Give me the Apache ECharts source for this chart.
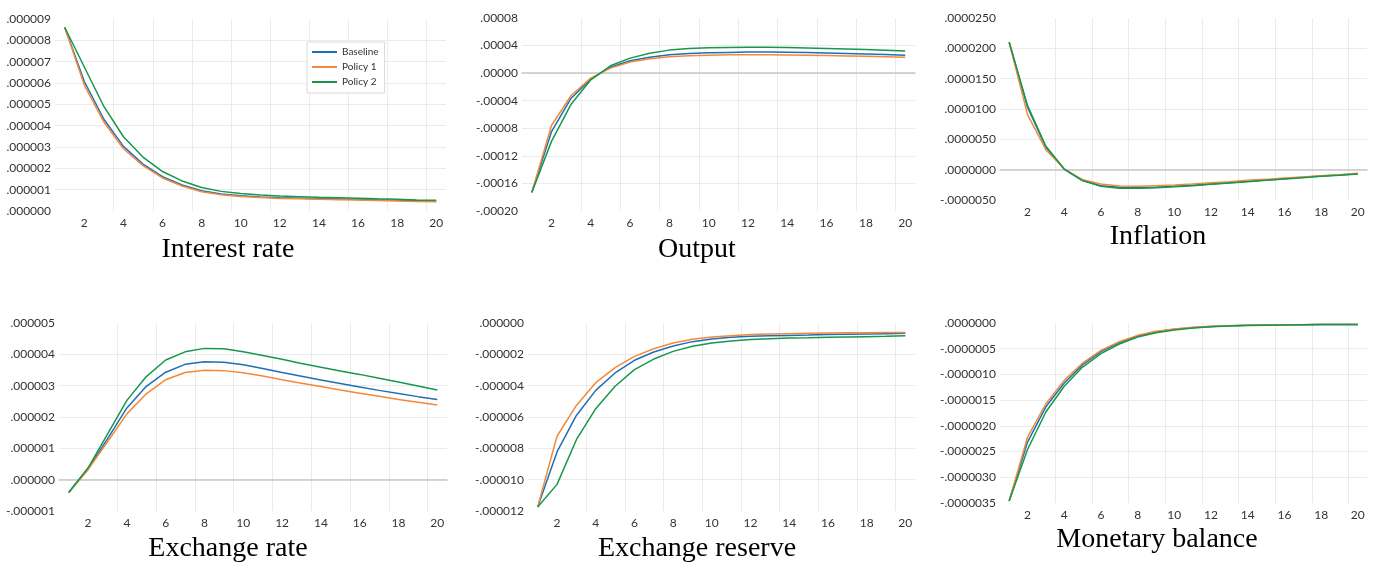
<!DOCTYPE html>
<html>
<head>
<meta charset="utf-8">
<title>Impulse responses</title>
<script src="https://cdn.jsdelivr.net/npm/echarts@6/dist/echarts.min.js"></script>
<style>
  html, body { margin: 0; padding: 0; background: #fff; }
  #main { width: 1375px; height: 562px; }
</style>
</head>
<body>
<div id="main"></div>
<script>
// periods after the shock
var periods = ['1', '2', '3', '4', '5', '6', '7', '8', '9', '10',
  '11', '12', '13', '14', '15', '16', '17', '18', '19', '20'];
var seriesNames = ['Baseline', 'Policy 1', 'Policy 2'];
var colors = ['#1f6fb7', '#f5893a', '#16974c'];

// Interest rate (x 1e-6)
var interestBaseline = [8.6, 6.07, 4.3, 3.03, 2.2, 1.61, 1.22, 0.95, 0.8, 0.72, 0.66, 0.62, 0.6, 0.58, 0.56, 0.54, 0.52, 0.5, 0.48, 0.46];
var interestPolicy1 = [8.6, 5.9, 4.17, 2.92, 2.13, 1.55, 1.17, 0.9, 0.76, 0.68, 0.63, 0.59, 0.57, 0.55, 0.53, 0.51, 0.49, 0.47, 0.45, 0.43];
var interestPolicy2 = [8.6, 6.75, 4.9, 3.48, 2.53, 1.85, 1.41, 1.1, 0.92, 0.82, 0.75, 0.7, 0.67, 0.64, 0.62, 0.6, 0.57, 0.55, 0.52, 0.5];

// Output (x 1e-5)
var outputBaseline = [-17.3, -8.5, -3.63, -0.87, 0.87, 1.8, 2.32, 2.66, 2.86, 2.95, 3.0, 3.05, 3.05, 3.03, 2.98, 2.92, 2.85, 2.77, 2.69, 2.6];
var outputPolicy1 = [-17.3, -7.6, -3.24, -0.73, 0.73, 1.6, 2.08, 2.37, 2.52, 2.6, 2.66, 2.66, 2.66, 2.64, 2.6, 2.55, 2.5, 2.44, 2.38, 2.32];
var outputPolicy2 = [-17.3, -9.9, -4.5, -0.97, 1.07, 2.18, 2.9, 3.34, 3.58, 3.68, 3.73, 3.75, 3.75, 3.72, 3.66, 3.59, 3.51, 3.42, 3.32, 3.2];

// Inflation (x 1e-6)
var inflationBaseline = [21.0, 10.3, 3.7, 0.1, -1.8, -2.64, -2.9, -3.0, -2.9, -2.75, -2.58, -2.36, -2.14, -1.92, -1.7, -1.48, -1.26, -1.04, -0.88, -0.66];
var inflationPolicy1 = [21.0, 9.07, 3.3, 0.1, -1.65, -2.36, -2.7, -2.75, -2.64, -2.53, -2.36, -2.14, -1.98, -1.76, -1.6, -1.37, -1.2, -0.99, -0.82, -0.6];
var inflationPolicy2 = [21.0, 10.55, 3.85, 0.1, -1.8, -2.75, -3.08, -3.08, -2.97, -2.8, -2.64, -2.42, -2.2, -1.98, -1.76, -1.54, -1.32, -1.1, -0.93, -0.71];

// Exchange rate (x 1e-6)
var exrateBaseline = [-0.41, 0.35, 1.3, 2.29, 2.98, 3.43, 3.68, 3.76, 3.75, 3.67, 3.55, 3.42, 3.3, 3.18, 3.07, 2.96, 2.85, 2.75, 2.65, 2.56];
var exratePolicy1 = [-0.41, 0.32, 1.21, 2.1, 2.74, 3.19, 3.42, 3.49, 3.48, 3.41, 3.31, 3.19, 3.08, 2.97, 2.86, 2.76, 2.66, 2.56, 2.47, 2.38];
var exratePolicy2 = [-0.41, 0.38, 1.45, 2.53, 3.29, 3.82, 4.08, 4.19, 4.18, 4.08, 3.96, 3.84, 3.71, 3.59, 3.47, 3.36, 3.24, 3.12, 2.99, 2.86];

// Exchange reserve (x 1e-6)
var reserveBaseline = [-11.74, -8.23, -5.9, -4.3, -3.19, -2.38, -1.85, -1.47, -1.19, -1.02, -0.91, -0.85, -0.81, -0.79, -0.77, -0.74, -0.72, -0.7, -0.68, -0.66];
var reservePolicy1 = [-11.74, -7.23, -5.26, -3.81, -2.85, -2.13, -1.64, -1.28, -1.04, -0.89, -0.81, -0.74, -0.7, -0.68, -0.66, -0.64, -0.63, -0.62, -0.61, -0.6];
var reservePolicy2 = [-11.74, -10.3, -7.45, -5.47, -4.04, -2.98, -2.3, -1.81, -1.49, -1.28, -1.15, -1.06, -1.0, -0.96, -0.94, -0.91, -0.89, -0.87, -0.85, -0.81];

// Monetary balance (x 1e-7)
var moneyBaseline = [-34.6, -23.15, -16.3, -11.67, -8.1, -5.58, -3.83, -2.53, -1.75, -1.23, -0.91, -0.68, -0.55, -0.45, -0.39, -0.35, -0.32, -0.3, -0.28, -0.27];
var moneyPolicy1 = [-34.6, -22.2, -15.7, -11.15, -7.78, -5.32, -3.63, -2.4, -1.62, -1.17, -0.84, -0.65, -0.52, -0.45, -0.39, -0.35, -0.32, -0.3, -0.28, -0.27];
var moneyPolicy2 = [-34.6, -24.6, -17.3, -12.3, -8.56, -5.97, -4.09, -2.72, -1.88, -1.36, -0.97, -0.71, -0.58, -0.49, -0.42, -0.37, -0.33, -0.3, -0.28, -0.27];

// one entry per small chart: data, y axis range and where it sits
var panels = [
  { title: 'Interest rate', lines: [interestBaseline, interestPolicy1, interestPolicy2], unit: 1e-6,
    min: 0, max: 0.000009, interval: 0.000001, decimals: 6,
    grid: { left: 55, top: 19, width: 391, height: 192 }, titleAt: [228, 252] },
  { title: 'Output', lines: [outputBaseline, outputPolicy1, outputPolicy2], unit: 1e-5,
    min: -0.0002, max: 0.00008, interval: 0.00004, decimals: 5,
    grid: { left: 522, top: 18, width: 393, height: 193 }, titleAt: [697, 252] },
  { title: 'Inflation', lines: [inflationBaseline, inflationPolicy1, inflationPolicy2], unit: 1e-6,
    min: -0.000005, max: 0.000025, interval: 0.000005, decimals: 7,
    grid: { left: 1000, top: 18, width: 367, height: 182 }, titleAt: [1158, 239] },
  { title: 'Exchange rate', lines: [exrateBaseline, exratePolicy1, exratePolicy2], unit: 1e-6,
    min: -0.000001, max: 0.000005, interval: 0.000001, decimals: 6,
    grid: { left: 59, top: 323, width: 388, height: 188 }, titleAt: [228, 551] },
  { title: 'Exchange reserve', lines: [reserveBaseline, reservePolicy1, reservePolicy2], unit: 1e-6,
    min: -0.000012, max: 0, interval: 0.000002, decimals: 6,
    grid: { left: 528, top: 323, width: 387, height: 188 }, titleAt: [697, 551] },
  { title: 'Monetary balance', lines: [moneyBaseline, moneyPolicy1, moneyPolicy2], unit: 1e-7,
    min: -0.0000035, max: 0, interval: 0.0000005, decimals: 7,
    grid: { left: 1000, top: 323, width: 367, height: 180 }, titleAt: [1157, 542] }
];

var tickFont = 'Lato, "Open Sans", sans-serif';
var gridColor = '#ebebeb';

// .000009 style labels, no leading zero
function makeFormatter(decimals) {
  return function (v) {
    if (Math.abs(v) < 1e-12) v = 0;
    return v.toFixed(decimals).replace(/^(-?)0\./, '$1.');
  };
}

var option = {
  animation: false,
  backgroundColor: '#fff',
  color: colors,
  title: [],
  grid: [],
  xAxis: [],
  yAxis: [],
  series: [],
  legend: {
    data: seriesNames,
    orient: 'vertical',
    left: 307,
    top: 42,
    padding: [5, 6, 6, 5],
    icon: 'rect',
    itemWidth: 25,
    itemHeight: 2,
    itemGap: 5,
    borderColor: '#d9d9d9',
    borderWidth: 1,
    backgroundColor: '#fff',
    textStyle: { fontFamily: tickFont, fontSize: 10, color: '#333' }
  }
};

panels.forEach(function (p, i) {
  var zeroInside = p.min < 0 && p.max > 0;
  option.title.push({
    text: p.title,
    left: p.titleAt[0],
    top: p.titleAt[1] - 16,
    textAlign: 'center',
    padding: 0,
    textStyle: { fontFamily: '"Liberation Serif", serif', fontSize: 28, fontWeight: 'normal', color: '#000' }
  });
  option.grid.push(p.grid);
  option.xAxis.push({
    type: 'category',
    gridIndex: i,
    data: periods,
    boundaryGap: true,
    axisTick: { show: false },
    axisLine: { show: zeroInside, onZero: true, lineStyle: { color: '#c8c8c8', width: 1.5 } },
    axisLabel: {
      interval: function (idx) { return idx % 2 === 1; },
      margin: 6,
      fontFamily: tickFont,
      fontSize: 12,
      color: '#333'
    },
    splitLine: {
      show: true,
      interval: function (idx) { return idx % 2 === 1; },
      showMinLine: false,
      showMaxLine: false,
      lineStyle: { color: gridColor }
    }
  });
  option.yAxis.push({
    type: 'value',
    gridIndex: i,
    min: p.min,
    max: p.max,
    interval: p.interval,
    axisLine: { show: false },
    axisTick: { show: false },
    axisLabel: {
      margin: 4,
      fontFamily: tickFont,
      fontSize: 12,
      color: '#333',
      formatter: makeFormatter(p.decimals)
    },
    splitLine: { show: true, showMinLine: false, showMaxLine: false, lineStyle: { color: gridColor } }
  });
  p.lines.forEach(function (arr, k) {
    option.series.push({
      name: seriesNames[k],
      type: 'line',
      xAxisIndex: i,
      yAxisIndex: i,
      symbol: 'none',
      lineStyle: { width: 1.5, color: colors[k] },
      itemStyle: { color: colors[k] },
      data: arr.map(function (v) { return v * p.unit; })
    });
  });
});

var chart = echarts.init(document.getElementById('main'));
chart.setOption(option);
</script>
</body>
</html>
